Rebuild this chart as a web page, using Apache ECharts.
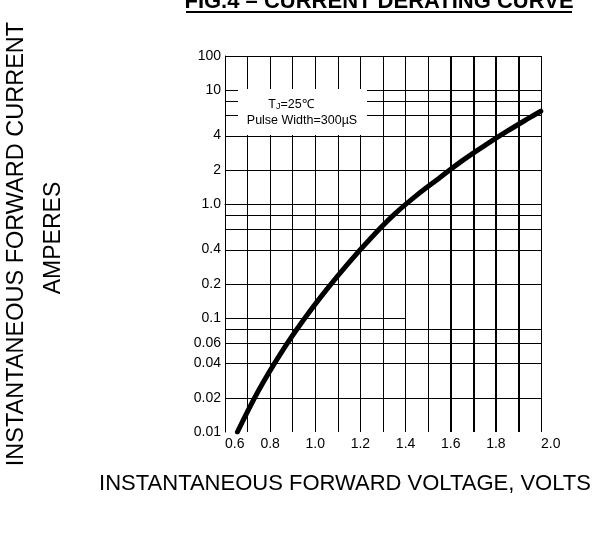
<!DOCTYPE html>
<html>
<head>
<meta charset="utf-8">
<title>Forward characteristics</title>
<script src="https://cdn.jsdelivr.net/npm/echarts@6/dist/echarts.min.js"></script>
<style>
  html, body { margin: 0; padding: 0; background: #fff; }
  #chart { width: 595px; height: 544px; }
</style>
</head>
<body>
<div id="chart"></div>
<script>
// curve (volts, amperes)
const voltage = [0.655, 0.75, 0.85, 0.95, 1.05, 1.15, 1.25, 1.35, 1.45, 1.55, 1.65, 1.75, 1.85, 1.95, 1.999];
const current = [0.01, 0.0234, 0.0501, 0.0977, 0.178, 0.309, 0.513, 0.813, 1.20, 1.70, 2.40, 3.27, 4.37, 5.75, 6.55];

// axis ticks
const xTicks = [0.6, 0.8, 1.0, 1.2, 1.4, 1.6, 1.8, 2.0];
const yTickPos = [0.01, 0.02, 0.04, 0.06, 0.1, 0.2, 0.4, 1, 2, 4, 10, 20];
const yTickLabels = ['0.01', '0.02', '0.04', '0.06', '0.1', '0.2', '0.4', '1.0', '2', '4', '10', '100'];
// horizontal grid lines (the top one is drawn at 20 but labelled 100)
const yGrid = [0.02, 0.04, 0.06, 0.08, 0.2, 0.4, 0.6, 0.8, 1, 2, 4, 6, 8, 10, 20];
const thickX = [1.6, 1.7, 1.8, 1.9];

const lg = (v) => Math.log10(v);

const chart = echarts.init(document.getElementById('chart'));

const gridLines = yGrid.map((v) => ({ yAxis: lg(v) }));
gridLines.push([{ coord: [0.6, lg(0.1)] }, { coord: [1.4, lg(0.1)] }]);
thickX.forEach((v) => gridLines.push({ xAxis: v, lineStyle: { width: 2 } }));

const option = {
  animation: false,
  grid: { left: 225, top: 56, right: 54, bottom: 112 },
  xAxis: {
    type: 'value',
    min: 0.6,
    max: 2.0,
    interval: 0.1,
    axisLine: { lineStyle: { color: '#000', width: 1 } },
    axisTick: { show: false },
    splitLine: { show: true, lineStyle: { color: '#000', width: 1 } },
    axisLabel: {
      customValues: xTicks,
      color: '#000',
      fontFamily: 'Liberation Sans',
      fontSize: 14,
      margin: 5,
      alignMinLabel: 'left',
      alignMaxLabel: 'left',
      formatter: (v) => v.toFixed(1),
    },
  },
  yAxis: {
    type: 'value',
    min: -2,
    max: lg(20),
    axisLine: { show: true, lineStyle: { color: '#000', width: 1 } },
    axisTick: { show: false },
    splitLine: { show: false },
    axisLabel: {
      customValues: yTickPos.map(lg),
      color: '#000',
      fontFamily: 'Liberation Sans',
      fontSize: 14,
      margin: 4,
      formatter: (v) => {
        const i = yTickPos.findIndex((p) => Math.abs(lg(p) - v) < 1e-6);
        return i < 0 ? '' : yTickLabels[i];
      },
    },
  },
  series: [
    {
      type: 'line',
      smooth: 0.4,
      symbol: 'none',
      data: voltage.map((v, i) => [v, lg(current[i])]),
      lineStyle: { color: '#000', width: 5, cap: 'round' },
      z: 5,
      markLine: {
        silent: true,
        symbol: 'none',
        label: { show: false },
        lineStyle: { color: '#000', width: 1, type: 'solid' },
        emphasis: { disabled: true },
        data: gridLines,
      },
    },
  ],
  graphic: [
    // white box behind the test conditions
    { type: 'rect', z: 50, shape: { x: 238, y: 89, width: 129, height: 46 }, style: { fill: '#fff' } },
    {
      type: 'text', z: 51, x: 291, y: 105,
      style: {
        text: '{a|T}{b|J}{a|=25℃}',
        textAlign: 'center', textVerticalAlign: 'middle',
        rich: {
          a: { fontSize: 12.5, fontFamily: 'Liberation Sans', fill: '#000' },
          b: { fontSize: 9, fontFamily: 'Liberation Sans', fill: '#000', padding: [3, 0, 0, 0] },
        },
      },
    },
    {
      type: 'text', z: 51, x: 302, y: 121,
      style: { text: 'Pulse Width=300µS', font: '12.5px "Liberation Sans"', fill: '#000', textAlign: 'center', textVerticalAlign: 'middle' },
    },
    // title, cut off at the top edge
    {
      type: 'text', x: 379, y: 2,
      style: { text: 'FIG.4 – CURRENT DERATING CURVE', font: 'bold 22px "Liberation Sans"', fill: '#000', textAlign: 'center', textVerticalAlign: 'middle' },
    },
    { type: 'line', shape: { x1: 186, y1: 12, x2: 572, y2: 12 }, style: { stroke: '#000', lineWidth: 2 } },
    // axis titles
    {
      type: 'text', x: 17, y: 244, rotation: Math.PI / 2,
      style: { text: 'INSTANTANEOUS FORWARD CURRENT', font: '23.5px "Liberation Sans"', fill: '#000', textAlign: 'center', textVerticalAlign: 'middle' },
    },
    {
      type: 'text', x: 54, y: 238, rotation: Math.PI / 2,
      style: { text: 'AMPERES', font: '23px "Liberation Sans"', fill: '#000', textAlign: 'center', textVerticalAlign: 'middle' },
    },
    {
      type: 'text', x: 345, y: 484,
      style: { text: 'INSTANTANEOUS FORWARD VOLTAGE, VOLTS', font: '22px "Liberation Sans"', fill: '#000', textAlign: 'center', textVerticalAlign: 'middle' },
    },
  ],
};

chart.setOption(option);
window.addEventListener('resize', () => {
  chart.resize();
});
</script>
</body>
</html>
